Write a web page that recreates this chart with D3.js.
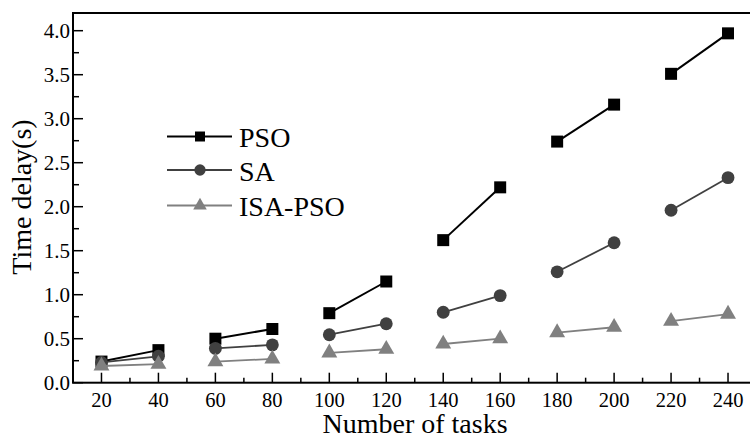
<!DOCTYPE html>
<html>
<head>
<meta charset="utf-8">
<script src="https://cdn.jsdelivr.net/npm/d3@7"></script>
<style>
body{margin:0;background:#fff;}
svg{display:block;font-family:"Liberation Serif","Times New Roman",serif;}
</style>
</head>
<body>
<div id="chart"></div>
<script>
// number of tasks, points are joined in pairs
var tasks = [20,40,60,80,100,120,140,160,180,200,220,240];
var psoVals = [0.24,0.37,0.50,0.61,0.79,1.15,1.62,2.22,2.74,3.16,3.51,3.97];
var saVals  = [0.23,0.30,0.39,0.43,0.545,0.67,0.80,0.99,1.26,1.59,1.96,2.33];
var isaVals = [0.19,0.21,0.24,0.27,0.34,0.38,0.44,0.50,0.57,0.63,0.70,0.78];
var xTicks = [20,40,60,80,100,120,140,160,180,200,220,240];
var yTicks = [0,0.5,1,1.5,2,2.5,3,3.5,4];

var W=750,H=437;
var padL=73,padT=13,axisY=382.7;

var x = d3.scaleLinear().domain([10,250]).range([padL,padL+683.5]);
var y = d3.scaleLinear().domain([0,(axisY-padT)/88]).range([axisY,padT]);

var svg = d3.select("#chart").append("svg").attr("width",W).attr("height",H);

// frame (right side falls outside the picture)
svg.append("rect")
    .attr("x",padL).attr("y",padT)
    .attr("width",x(250)-padL).attr("height",axisY-padT)
    .style("fill","none").style("stroke","#000").style("stroke-width","2px");

// x ticks, inward
var xMinor = d3.range(30,250,20);
svg.selectAll(".xmin").data(xMinor).enter().append("line")
    .attr("x1",function(d){return x(d);}).attr("x2",function(d){return x(d);})
    .attr("y1",axisY).attr("y2",axisY-5)
    .style("stroke","#000").style("stroke-width","1.5px");
svg.selectAll(".xmaj").data(xTicks).enter().append("line")
    .attr("x1",function(d){return x(d);}).attr("x2",function(d){return x(d);})
    .attr("y1",axisY).attr("y2",axisY-10)
    .style("stroke","#000").style("stroke-width","1.5px");
svg.selectAll(".xlab").data(xTicks).enter().append("text")
    .attr("x",function(d){return x(d);}).attr("y",407)
    .attr("text-anchor","middle").style("font-size","20.5px")
    .text(function(d){return d;});

// y ticks, inward
var yMinor = d3.range(0.25,4.2,0.5);
svg.selectAll(".ymin").data(yMinor).enter().append("line")
    .attr("x1",padL).attr("x2",padL+6)
    .attr("y1",function(d){return y(d);}).attr("y2",function(d){return y(d);})
    .style("stroke","#000").style("stroke-width","1.5px");
svg.selectAll(".ymaj").data(yTicks).enter().append("line")
    .attr("x1",padL).attr("x2",padL+10)
    .attr("y1",function(d){return y(d);}).attr("y2",function(d){return y(d);})
    .style("stroke","#000").style("stroke-width","1.5px");
svg.selectAll(".ylab").data(yTicks).enter().append("text")
    .attr("x",padL-3).attr("y",function(d){return y(d)+7;})
    .attr("text-anchor","end").style("font-size","21px")
    .text(function(d){return d.toFixed(1);});

// axis titles
svg.append("text").attr("x",415).attr("y",433)
    .attr("text-anchor","middle").style("font-size","28px")
    .text("Number of tasks");
svg.append("text")
    .attr("transform","translate(31,197) rotate(-90)")
    .attr("text-anchor","middle").style("font-size","28px")
    .text("Time delay(s)");

var series = [
    {name:"PSO",vals:psoVals,color:"#000",sym:d3.symbolSquare,size:144,lsize:100,lw:2},
    {name:"SA",vals:saVals,color:"#404040",sym:d3.symbolCircle,size:130,lsize:100,lw:1.8},
    {name:"ISA-PSO",vals:isaVals,color:"#808080",sym:d3.symbolTriangle,size:110,lsize:80,lw:1.8}
];

series.forEach(function(s){
    var g = svg.append("g");
    // lines only join 20-40, 60-80, ...
    for(var i=0;i<tasks.length;i+=2){
        g.append("line")
            .attr("x1",x(tasks[i])).attr("y1",y(s.vals[i]))
            .attr("x2",x(tasks[i+1])).attr("y2",y(s.vals[i+1]))
            .style("stroke",s.color).style("stroke-width",s.lw+"px");
    }
    g.selectAll("path").data(s.vals).enter().append("path")
        .attr("d",d3.symbol().type(s.sym).size(s.size))
        .attr("transform",function(d,i){return "translate("+x(tasks[i])+","+y(d)+")";})
        .style("fill",s.color);
});

// legend
var legY = [136.5,170,205.5];
series.forEach(function(s,i){
    svg.append("line").attr("x1",167).attr("x2",232)
        .attr("y1",legY[i]).attr("y2",legY[i])
        .style("stroke",s.color).style("stroke-width",s.lw+"px");
    svg.append("path")
        .attr("d",d3.symbol().type(s.sym).size(s.lsize))
        .attr("transform","translate(200,"+legY[i]+")")
        .style("fill",s.color);
    svg.append("text").attr("x",239).attr("y",legY[i]+10.5)
        .style("font-size","28px").text(s.name);
});
</script>
</body>
</html>
